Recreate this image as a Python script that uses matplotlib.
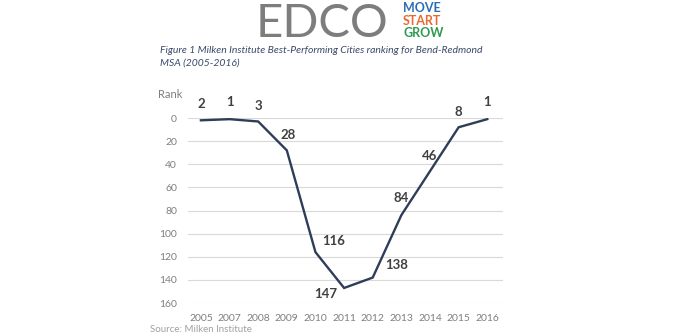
import matplotlib.pyplot as plt

plt.rcParams["font.family"] = ["Lato", "DejaVu Sans"]

years = ["2005", "2007", "2008", "2009", "2010", "2011", "2012", "2013", "2014", "2015", "2016"]
ranks = [2, 1, 3, 28, 116, 147, 138, 84, 46, 8, 1]
# label offsets (points) for each data label
offsets = [(0, 12), (0, 12), (0, 11), (1, 11), (13, 8), (-13, -4), (17, 9), (0, 12), (0, 11), (0, 11), (0, 12)]
yticks = [0, 20, 40, 60, 80, 100, 120, 140, 160]

fig = plt.figure(figsize=(7, 3.36), dpi=100)
ax = fig.add_axes([0.2686, 0.0982, 0.45, 0.5506])

x = list(range(len(years)))
ax.plot(x, ranks, color="#2e3d58", lw=1.7, solid_joinstyle="miter")
for xi, r, (dx, dy) in zip(x, ranks, offsets):
    ax.annotate(str(r), (xi, r), xytext=(dx, dy), textcoords="offset points",
                ha="center", va="center", fontsize=9.5, fontweight="bold",
                color="#404040", annotation_clip=False)

ax.set_xlim(-0.45, 10.55)
ax.set_ylim(160, 0)
ax.set_yticks(yticks)
ax.set_xticks(x)
ax.set_xticklabels(years)
ax.grid(axis="y", color="#d9d9d9", lw=0.8)
ax.set_axisbelow(True)
for s in ax.spines.values():
    s.set_visible(False)
ax.tick_params(length=0, labelsize=7.5, labelcolor="#7f7f7f", pad=8)
ax.tick_params(axis="y", pad=8)

fig.text(170 / 700, 1 - 95 / 336, "Rank", fontsize=8, color="#7f7f7f", ha="center", va="center")

fig.text(160 / 700, 1 - 57 / 336,
         "Figure 1 Milken Institute Best-Performing Cities ranking for Bend-Redmond\nMSA (2005-2016)",
         fontsize=7.5, style="italic", color="#3a4a6a", ha="left", va="center", linespacing=1.45)

# logo
fig.text(322 / 700, 1 - 37 / 336, "EDCO", fontsize=34, color="#7d7d7d", ha="center", va="baseline")
for txt, col, yy in [("MOVE", "#2a6db5", 8), ("START", "#e86a2e", 21), ("GROW", "#2f9a50", 33)]:
    fig.text(403 / 700, 1 - yy / 336, txt, fontsize=9, fontweight="bold", color=col,
             ha="left", va="center")

fig.text(150 / 700, 1 - 330 / 336, "Source: Milken Institute", fontsize=7, color="#a0a0a0",
         ha="left", va="center")

fig.savefig("out.png", dpi=100, facecolor="white")
